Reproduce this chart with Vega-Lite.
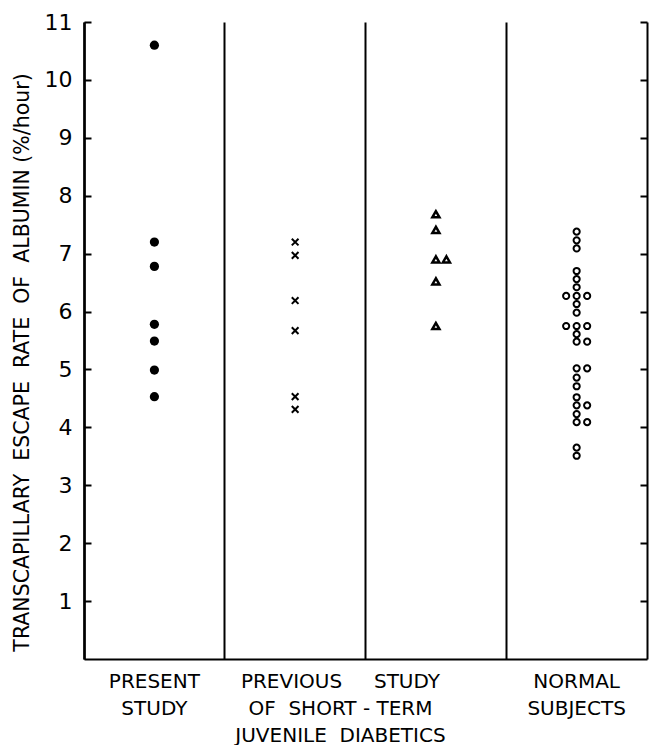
{
  "$schema": "https://vega.github.io/schema/vega-lite/v6.json",
  "width": 563,
  "height": 637,
  "autosize": "none",
  "padding": {"left": 84, "top": 22, "right": 2, "bottom": 86},
  "background": "white",
  "config": {"view": {"stroke": null}, "font": "DejaVu Sans"},
  "data": {"values": [
    {"group": "present", "value": 10.6, "slot": 0},
    {"group": "present", "value": 7.2, "slot": 0},
    {"group": "present", "value": 6.78, "slot": 0},
    {"group": "present", "value": 5.78, "slot": 0},
    {"group": "present", "value": 5.49, "slot": 0},
    {"group": "present", "value": 4.99, "slot": 0},
    {"group": "present", "value": 4.53, "slot": 0},
    {"group": "previous_x", "value": 7.2, "slot": 0},
    {"group": "previous_x", "value": 6.97, "slot": 0},
    {"group": "previous_x", "value": 6.19, "slot": 0},
    {"group": "previous_x", "value": 5.67, "slot": 0},
    {"group": "previous_x", "value": 4.53, "slot": 0},
    {"group": "previous_x", "value": 4.31, "slot": 0},
    {"group": "previous_tri", "value": 7.68, "slot": 0},
    {"group": "previous_tri", "value": 7.41, "slot": 0},
    {"group": "previous_tri", "value": 6.9, "slot": 0},
    {"group": "previous_tri", "value": 6.9, "slot": 1},
    {"group": "previous_tri", "value": 6.52, "slot": 0},
    {"group": "previous_tri", "value": 5.75, "slot": 0},
    {"group": "normal", "value": 7.38, "slot": 0},
    {"group": "normal", "value": 7.23, "slot": 0},
    {"group": "normal", "value": 7.09, "slot": 0},
    {"group": "normal", "value": 6.7, "slot": 0},
    {"group": "normal", "value": 6.56, "slot": 0},
    {"group": "normal", "value": 6.42, "slot": 0},
    {"group": "normal", "value": 6.27, "slot": -1},
    {"group": "normal", "value": 6.27, "slot": 0},
    {"group": "normal", "value": 6.27, "slot": 1},
    {"group": "normal", "value": 6.13, "slot": 0},
    {"group": "normal", "value": 5.98, "slot": 0},
    {"group": "normal", "value": 5.75, "slot": -1},
    {"group": "normal", "value": 5.75, "slot": 0},
    {"group": "normal", "value": 5.75, "slot": 1},
    {"group": "normal", "value": 5.61, "slot": 0},
    {"group": "normal", "value": 5.48, "slot": 0},
    {"group": "normal", "value": 5.48, "slot": 1},
    {"group": "normal", "value": 5.02, "slot": 0},
    {"group": "normal", "value": 5.02, "slot": 1},
    {"group": "normal", "value": 4.86, "slot": 0},
    {"group": "normal", "value": 4.71, "slot": 0},
    {"group": "normal", "value": 4.52, "slot": 0},
    {"group": "normal", "value": 4.38, "slot": 0},
    {"group": "normal", "value": 4.38, "slot": 1},
    {"group": "normal", "value": 4.23, "slot": 0},
    {"group": "normal", "value": 4.09, "slot": 0},
    {"group": "normal", "value": 4.09, "slot": 1},
    {"group": "normal", "value": 3.65, "slot": 0},
    {"group": "normal", "value": 3.51, "slot": 0}
  ]},
  "encoding": {
    "x": {
      "field": "group",
      "type": "nominal",
      "scale": {"type": "band", "domain": ["present", "previous_x", "previous_tri", "normal"], "paddingInner": 0, "paddingOuter": 0},
      "axis": {
        "title": null,
        "bandPosition": 0,
        "grid": true,
        "gridColor": "black",
        "gridWidth": 2,
        "gridOpacity": 1,
        "ticks": false,
        "domainColor": "black",
        "domainWidth": 2,
        "labelExpr": "datum.value === 'present' ? ['PRESENT', 'STUDY'] : datum.value === 'previous_tri' ? ['PREVIOUS\u00a0\u00a0\u00a0\u00a0\u00a0STUDY', 'OF\u00a0\u00a0SHORT\u00a0-\u00a0TERM', 'JUVENILE\u00a0\u00a0DIABETICS'] : datum.value === 'normal' ? ['NORMAL', 'SUBJECTS'] : ''",
        "labelOffset": {"condition": {"test": "datum.value === 'previous_tri'", "value": -95.4}, "value": 0},
        "labelAngle": 0,
        "labelAlign": "center",
        "labelBaseline": "top",
        "labelPadding": 12,
        "labelFontSize": 20,
        "labelLineHeight": 27,
        "labelColor": "black",
        "labelLimit": 500
      }
    },
    "xOffset": {"field": "slot", "type": "quantitative", "scale": {"domain": [-1, 1], "range": [59.9, 80.9]}}
  },
  "layer": [
    {
      "transform": [{"filter": "datum.group === 'present'"}],
      "mark": {"type": "point", "shape": "circle", "filled": true, "color": "black", "size": 85, "opacity": 1},
      "encoding": {
        "y": {
          "field": "value", "type": "quantitative",
          "scale": {"domain": [0, 11], "nice": false},
          "axis": {
            "orient": "left",
            "values": [1, 2, 3, 4, 5, 6, 7, 8, 9, 10, 11],
            "grid": false,
            "tickSize": -7,
            "tickWidth": 2,
            "tickColor": "black",
            "domainColor": "black",
            "domainWidth": 2.5,
            "labelFontSize": 22,
            "labelColor": "black",
            "labelPadding": 19,
            "title": "TRANSCAPILLARY\u00a0\u00a0ESCAPE\u00a0\u00a0RATE\u00a0\u00a0OF\u00a0\u00a0ALBUMIN\u00a0(%/hour)",
            "titleFontSize": 20.5,
            "titleFontWeight": "normal",
            "titleColor": "black",
            "titlePadding": 12,
            "titleY": 340
          }
        }
      }
    },
    {
      "transform": [{"filter": "datum.group === 'previous_x'"}],
      "mark": {"type": "point", "shape": "M-1,-1L1,1M-1,1L1,-1", "filled": false, "color": "black", "strokeWidth": 2, "size": 45, "opacity": 1},
      "encoding": {
        "y": {
          "field": "value", "type": "quantitative",
          "axis": {
            "orient": "right",
            "values": [1, 2, 3, 4, 5, 6, 7, 8, 9, 10, 11],
            "labels": false,
            "grid": false,
            "title": null,
            "tickSize": -7,
            "tickWidth": 2,
            "tickColor": "black",
            "domainColor": "black",
            "domainWidth": 2
          }
        }
      }
    },
    {
      "transform": [{"filter": "datum.group === 'previous_tri'"}],
      "mark": {"type": "point", "shape": "triangle-up", "filled": false, "color": "black", "strokeWidth": 2.5, "size": 50, "opacity": 1},
      "encoding": {"y": {"field": "value", "type": "quantitative", "axis": null}}
    },
    {
      "transform": [{"filter": "datum.group === 'normal'"}],
      "mark": {"type": "point", "shape": "circle", "filled": false, "color": "black", "strokeWidth": 2, "size": 38, "opacity": 1},
      "encoding": {"y": {"field": "value", "type": "quantitative", "axis": null}}
    }
  ],
  "resolve": {"axis": {"y": "independent"}}
}
